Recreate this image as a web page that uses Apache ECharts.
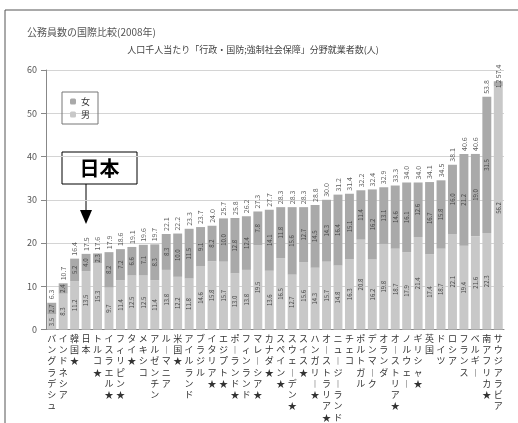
<!DOCTYPE html>
<html>
<head>
<meta charset="utf-8">
<script src="https://cdn.jsdelivr.net/npm/echarts@6/dist/echarts.min.js"></script>
<style>
html,body{margin:0;padding:0;background:#fff;}
#chart{width:518px;height:423px;}
</style>
</head>
<body>
<div id="chart"></div>
<script>
// 公務員数の国際比較 データ
var categories = ['バングラデシュ','インドネシア','韓国★','日本','トルコ★','イスラエル★','フィリピン★','タイ★','メキシコ','アルゼンチン',
	'ルーマニア','米国★','アイルランド','ブラジル','イタリア★','エジプト★','ポーランド★','フィンランド','マレーシア★','カナダ★',
	'スペイン★','スウェーデン★','スイス★','ハンガリー★','オーストラリア★','ニュージーランド','チェコ','ポルトガル','デンマーク','オランダ',
	'オーストリア★','ノルウェー','ギリシャ★','英国','ドイツ','ロシア','フランス','ベルギー','南アフリカ★','サウジアラビア'];
var male   = [3.5, 8.3, 11.2, 13.5, 15.3, 9.7, 11.4, 12.5, 12.5, 11.4,
	13.8, 12.2, 11.8, 14.6, 15.8, 15.7, 13.0, 13.8, 19.5, 13.6,
	16.5, 12.7, 15.6, 14.3, 15.7, 14.8, 16.3, 20.8, 16.2, 19.8,
	18.7, 17.9, 21.4, 17.4, 18.7, 22.1, 19.4, 21.6, 22.3, 56.2];
var female = [2.7, 2.4, 5.2, 4.0, 2.3, 8.2, 7.2, 6.6, 7.1, 8.3,
	8.3, 10.0, 11.5, 9.1, 8.2, 10.0, 12.8, 12.4, 7.8, 14.1,
	11.8, 15.6, 12.7, 14.5, 14.3, 16.4, 15.1, 11.4, 16.2, 13.1,
	14.6, 16.1, 12.6, 16.7, 15.8, 16.0, 21.2, 19.0, 31.5, 1.2];
var totals = [6.3, 10.7, 16.4, 17.5, 17.6, 17.9, 18.6, 19.1, 19.6, 19.7,
	22.1, 22.2, 23.3, 23.7, 24.0, 25.7, 25.8, 26.2, 27.3, 27.7,
	28.3, 28.3, 28.3, 28.8, 30.0, 31.2, 31.4, 32.2, 32.4, 32.9,
	33.3, 34.0, 34.0, 34.1, 34.5, 38.1, 40.6, 40.6, 53.8, 57.4];

var FONT = '"Noto Sans CJK JP", sans-serif';

(function(){
	var chart = echarts.init(document.getElementById('chart'));
	var innerLabel = {
		show: true,
		position: 'inside',
		rotate: 90,
		fontSize: 6,
		fontFamily: FONT,
		color: '#444',
		formatter: function(p){ return p.value.toFixed(1); }
	};
	var option = {
		backgroundColor: '#fff',
		animation: false,
		title: [
			{
				text: '公務員数の国際比較(2008年)',
				left: 22, top: 22,
				textStyle: {fontSize: 10, fontWeight: 'normal', color: '#555', fontFamily: FONT}
			},
			{
				text: '人口千人当たり「行政・国防;強制社会保障」分野就業者数(人)',
				left: 248, top: 40, textAlign: 'center',
				textStyle: {fontSize: 9, fontWeight: 'normal', color: '#444', fontFamily: FONT}
			}
		],
		legend: {
			orient: 'vertical',
			left: 62, top: 92,
			data: ['女', '男'],
			itemWidth: 6, itemHeight: 6, itemGap: 4,
			padding: [5, 8, 5, 8],
			borderColor: '#777', borderWidth: 1,
			textStyle: {fontSize: 9, color: '#333', fontFamily: FONT}
		},
		grid: {left: 46, right: 14, top: 70, bottom: 91},
		xAxis: {
			type: 'category',
			data: categories,
			axisLine: {lineStyle: {color: '#888'}},
			axisTick: {show: false},
			axisLabel: {
				interval: 0,
				margin: 3,
				fontSize: 9,
				lineHeight: 11.3,
				color: '#333',
				fontFamily: FONT,
				formatter: function(v){
					// 縦書き：長音は縦棒で表示
					return v.split('').map(function(c){ return c === 'ー' ? '︱' : c; }).join('\n');
				}
			}
		},
		yAxis: {
			type: 'value',
			min: 0, max: 60, interval: 10,
			axisLine: {show: true, lineStyle: {color: '#888'}},
			axisTick: {show: true, length: 5, lineStyle: {color: '#888'}},
			axisLabel: {fontSize: 9, color: '#555', margin: 9, fontFamily: FONT},
			splitLine: {lineStyle: {color: '#d4d4d4'}}
		},
		series: [
			{
				name: '男',
				type: 'bar',
				stack: 'total',
				barWidth: '78%',
				itemStyle: {color: '#c8c8c8'},
				label: innerLabel,
				data: male
			},
			{
				name: '女',
				type: 'bar',
				stack: 'total',
				itemStyle: {color: '#a9a9a9'},
				label: innerLabel,
				data: female
			},
			{
				name: '合計',
				type: 'scatter',
				symbolSize: 0,
				silent: true,
				label: {
					show: true,
					position: 'top',
					rotate: 90,
					align: 'left',
					verticalAlign: 'middle',
					distance: 3,
					fontSize: 7,
					color: '#333',
					fontFamily: FONT,
					formatter: function(p){ return p.value.toFixed(1); }
				},
				data: totals
			}
		],
		graphic: [
			{type: 'polyline', shape: {points: [[5, 430], [5, 10], [520, 10]]}, style: {stroke: '#555', lineWidth: 1, fill: null}},
			{type: 'rect', shape: {x: 62, y: 152, width: 75, height: 32}, style: {stroke: '#000', lineWidth: 1, fill: '#fff'}},
			{type: 'text', x: 99.5, y: 168, style: {text: '日本', font: 'bold 20px ' + FONT, fill: '#000', align: 'center', verticalAlign: 'middle'}},
			{type: 'line', shape: {x1: 86, y1: 184, x2: 86, y2: 212}, style: {stroke: '#000', lineWidth: 1}},
			{type: 'polygon', shape: {points: [[80, 210], [92, 210], [86, 224]]}, style: {fill: '#000'}}
		]
	};
	chart.setOption(option);
})();
</script>
</body>
</html>
